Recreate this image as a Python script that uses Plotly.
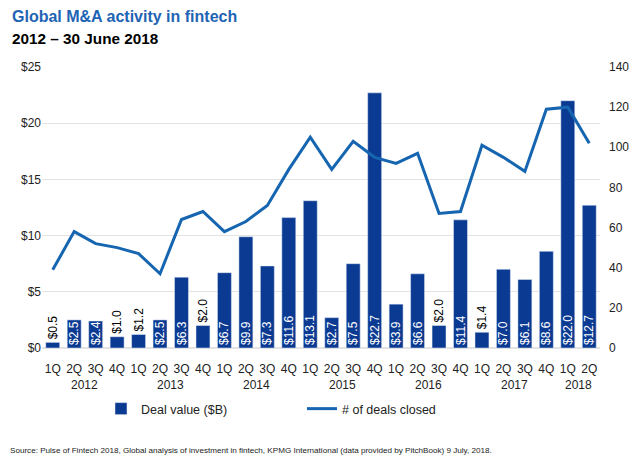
import plotly.graph_objects as go

quarters = ["1Q","2Q","3Q","4Q"]*6 + ["1Q","2Q"]
years = ["2012","2013","2014","2015","2016","2017","2018"]
year_counts = [4,4,4,4,4,4,2]
deal_value = [0.5,2.5,2.4,1.0,1.2,2.5,6.3,2.0,6.7,9.9,7.3,11.6,13.1,2.7,7.5,22.7,3.9,6.6,2.0,11.4,1.4,7.0,6.1,8.6,22.0,12.7]
deals_closed = [39,58,52,50,47,37,64,68,58,63,71,89,105,89,103,95,92,97,67,68,101,95,88,119,120,102]
outside_labels = [0.5,1.0,1.2,2.0,1.4]

x = list(range(len(quarters)))
text = ["$%.1f" % v for v in deal_value]
positions = ["outside" if v in outside_labels else "inside" for v in deal_value]

NAVY = "#0B3A92"
LINE = "#1565B0"
FONT = "Liberation Sans, Arial, sans-serif"

L, R, T, B = 42, 39, 67, 113
W, H = 639, 461

def px_x(px):
    return (px - L) / (W - L - R)
def px_y(py):
    return (H - B - py) / (H - T - B)

fig = go.Figure()
fig.add_trace(go.Bar(
    x=x, y=deal_value, name="Deal value ($B)", marker_color=NAVY,
    text=text, textposition=positions, textangle=-90,
    insidetextanchor="start", constraintext="none",
    insidetextfont=dict(color="white", size=12, family=FONT),
    outsidetextfont=dict(color="black", size=12, family=FONT),
    cliponaxis=False,
))
fig.add_trace(go.Scatter(
    x=x, y=deals_closed, name="# of deals closed", yaxis="y2",
    mode="lines", line=dict(color=LINE, width=3),
))

annotations = []
start = 0
for yr, n in zip(years, year_counts):
    center = start + (n - 1) / 2
    annotations.append(dict(x=center, xref="x", y=px_y(385), yref="paper",
                            yanchor="middle", text=yr, showarrow=False,
                            font=dict(size=12, color="#222", family=FONT)))
    start += n

annotations += [
    dict(text="<b>Global M&A activity in fintech</b>", x=px_x(10), y=px_y(17),
         xref="paper", yref="paper", xanchor="left", yanchor="middle",
         showarrow=False, font=dict(size=16, color="#1E64B4", family=FONT)),
    dict(text="<b>2012 – 30 June 2018</b>", x=px_x(10), y=px_y(38),
         xref="paper", yref="paper", xanchor="left", yanchor="middle",
         showarrow=False, font=dict(size=15.3, color="#000", family=FONT)),
    dict(text="Source: Pulse of Fintech 2018, Global analysis of investment in fintech, KPMG International (data provided by PitchBook) 9 July, 2018.",
         x=px_x(8), y=px_y(450), xref="paper", yref="paper",
         xanchor="left", yanchor="middle", showarrow=False,
         font=dict(size=8.1, color="#222", family=FONT)),
]

fig.update_layout(
    width=W, height=H,
    margin=dict(l=L, r=R, t=T, b=B, autoexpand=False),
    paper_bgcolor="white", plot_bgcolor="white",
    font=dict(family=FONT, size=12, color="#222"),
    bargap=0.35,
    showlegend=True,
    legend=dict(orientation="h", x=px_x(101), y=px_y(394), xanchor="left", yanchor="top",
                entrywidth=156, entrywidthmode="pixels",
                font=dict(size=12.5, color="#222", family=FONT)),
    xaxis=dict(tickvals=x, ticktext=quarters, range=[-0.5, len(x) - 0.5],
               showgrid=False, zeroline=False, showline=False, ticks="",
               automargin=False, ticklabelstandoff=12,
               tickfont=dict(size=12, color="#222")),
    yaxis=dict(range=[0, 25], tickvals=[0,5,10,15,20,25],
               ticktext=["$0","$5","$10","$15","$20","$25"],
               showgrid=True, gridcolor="#e3e3e3", gridwidth=1,
               zeroline=True, zerolinecolor="#e3e3e3", showline=False,
               automargin=False, ticks="", tickfont=dict(size=12, color="#222")),
    yaxis2=dict(range=[0, 140], tickvals=[0,20,40,60,80,100,120,140],
                overlaying="y", side="right", showgrid=False, zeroline=False,
                showline=False, ticks="", ticklabelstandoff=8, automargin=False,
                tickfont=dict(size=12, color="#222")),
    annotations=annotations,
)

fig.write_html("out.html", config={"displayModeBar": False},
               post_script="document.body.style.margin='0';document.body.style.padding='0';")
